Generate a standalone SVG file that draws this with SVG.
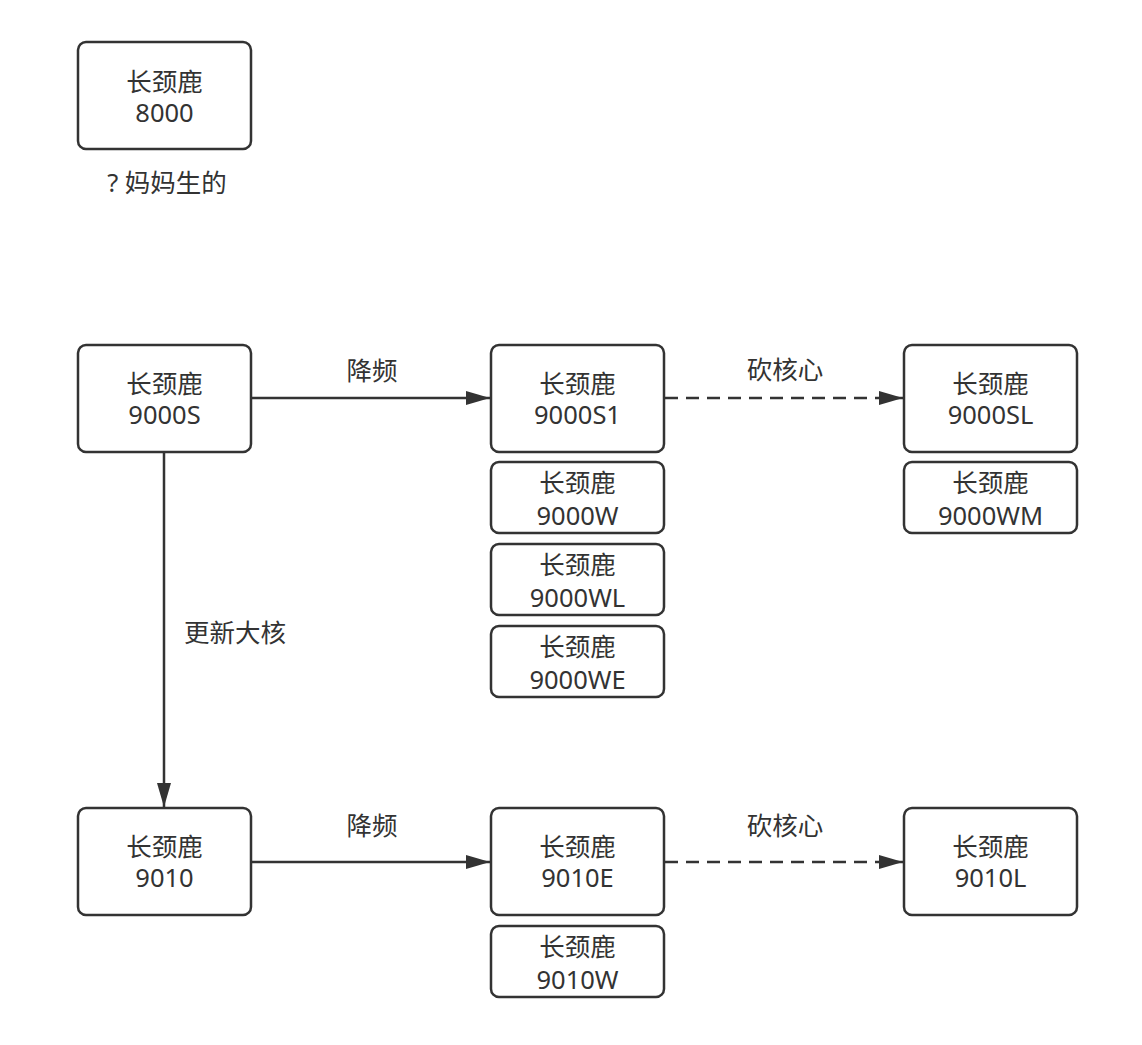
<svg xmlns="http://www.w3.org/2000/svg" width="1142" height="1045" viewBox="0 0 1142 1045">
<style>
.box{fill:#fff;stroke:#333;stroke-width:2.5}
text{font-family:"Noto Sans","Noto Sans CJK SC",sans-serif;font-size:25.5px;fill:#333;text-anchor:middle;dominant-baseline:central}
.line{stroke:#333;stroke-width:2.5;fill:none}
.dash{stroke-dasharray:13 8}
</style>
<defs>
<marker id="arr" viewBox="0 0 24 14" refX="24" refY="7" markerWidth="24" markerHeight="14" markerUnits="userSpaceOnUse" orient="auto">
<path d="M0,0 L24,7 L0,14 Z" fill="#333"/>
</marker>
</defs>
<rect width="1142" height="1045" fill="#fff"/>
<g id="connectors">
<line class="line" x1="252" y1="398" x2="490" y2="398" marker-end="url(#arr)"/>
<line class="line dash" x1="665" y1="398" x2="903" y2="398" marker-end="url(#arr)"/>
<line class="line" x1="164" y1="453" x2="164" y2="807" marker-end="url(#arr)"/>
<line class="line" x1="252" y1="862" x2="490" y2="862" marker-end="url(#arr)"/>
<line class="line dash" x1="665" y1="862" x2="903" y2="862" marker-end="url(#arr)"/>
<text x="372" y="370">降频</text>
<text x="785" y="369">砍核心</text>
<text x="235" y="632">更新大核</text>
<text x="372" y="825">降频</text>
<text x="785" y="825">砍核心</text>
</g>
<g id="n8000">
<rect class="box" x="78" y="42" width="173" height="107" rx="8"/>
<text x="164.5" y="81">长颈鹿</text>
<text x="164.5" y="112">8000</text>
<text x="167" y="182">? 妈妈生的</text>
</g>
<g id="n9000S">
<rect class="box" x="78" y="345" width="173" height="107" rx="8"/>
<text x="164.5" y="383">长颈鹿</text>
<text x="164.5" y="414">9000S</text>
</g>
<g id="n9000S1">
<rect class="box" x="491" y="345" width="173" height="107" rx="8"/>
<text x="577.5" y="383">长颈鹿</text>
<text x="577.5" y="414">9000S1</text>
</g>
<g id="n9000SL">
<rect class="box" x="904" y="345" width="173" height="107" rx="8"/>
<text x="990.5" y="383">长颈鹿</text>
<text x="990.5" y="414">9000SL</text>
</g>
<g id="n9000W">
<rect class="box" x="491" y="462" width="173" height="71" rx="8"/>
<text x="577.5" y="482">长颈鹿</text>
<text x="577.5" y="515">9000W</text>
</g>
<g id="n9000WL">
<rect class="box" x="491" y="544" width="173" height="71" rx="8"/>
<text x="577.5" y="564">长颈鹿</text>
<text x="577.5" y="597">9000WL</text>
</g>
<g id="n9000WE">
<rect class="box" x="491" y="626" width="173" height="71" rx="8"/>
<text x="577.5" y="646">长颈鹿</text>
<text x="577.5" y="679">9000WE</text>
</g>
<g id="n9000WM">
<rect class="box" x="904" y="462" width="173" height="71" rx="8"/>
<text x="990.5" y="482">长颈鹿</text>
<text x="990.5" y="515">9000WM</text>
</g>
<g id="n9010">
<rect class="box" x="78" y="808" width="173" height="107" rx="8"/>
<text x="164.5" y="846">长颈鹿</text>
<text x="164.5" y="877">9010</text>
</g>
<g id="n9010E">
<rect class="box" x="491" y="808" width="173" height="107" rx="8"/>
<text x="577.5" y="846">长颈鹿</text>
<text x="577.5" y="877">9010E</text>
</g>
<g id="n9010L">
<rect class="box" x="904" y="808" width="173" height="107" rx="8"/>
<text x="990.5" y="846">长颈鹿</text>
<text x="990.5" y="877">9010L</text>
</g>
<g id="n9010W">
<rect class="box" x="491" y="926" width="173" height="71" rx="8"/>
<text x="577.5" y="946">长颈鹿</text>
<text x="577.5" y="979">9010W</text>
</g>
</svg>
